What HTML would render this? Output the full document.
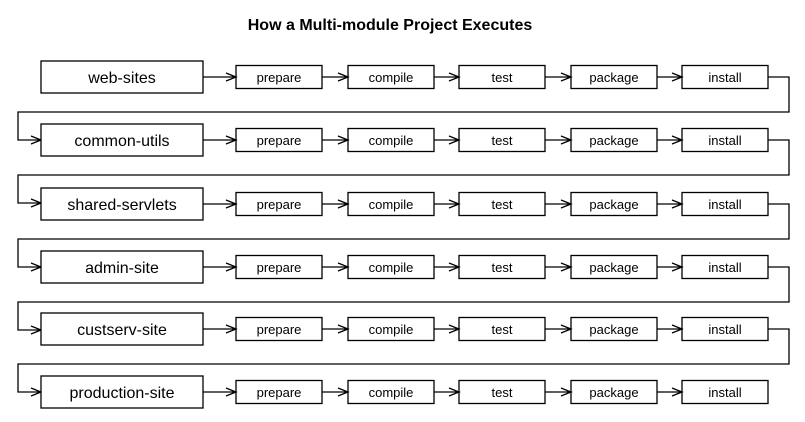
<!DOCTYPE html>
<html><head><meta charset="utf-8"><style>
html,body{margin:0;padding:0;background:#fff;}
svg{display:block;}
text{font-family:"Liberation Sans",Helvetica,Arial,sans-serif;fill:#000;}
</style></head><body>
<svg width="805" height="422" viewBox="0 0 805 422" xmlns="http://www.w3.org/2000/svg">
<defs>
<g id="row" fill="none" stroke="#000" stroke-width="1.3">
  <rect x="41" y="0" width="162" height="32" fill="#fff"/>
  <rect x="236" y="4.5" width="86" height="23" fill="#fff"/>
  <rect x="348" y="4.5" width="86" height="23" fill="#fff"/>
  <rect x="459" y="4.5" width="86" height="23" fill="#fff"/>
  <rect x="571" y="4.5" width="86" height="23" fill="#fff"/>
  <rect x="682" y="4.5" width="86" height="23" fill="#fff"/>
  <path d="M203 16H236M226 12L236 16L226 20"/>
  <path d="M322 16H348M338 12L348 16L338 20"/>
  <path d="M434 16H459M449 12L459 16L449 20"/>
  <path d="M545 16H571M561 12L571 16L561 20"/>
  <path d="M657 16H682M672 12L682 16L672 20"/>
</g>
<g id="loop" fill="none" stroke="#000" stroke-width="1.3">
  <path d="M768 16H789V51H18V79H41M31 75L41 79L31 83"/>
</g>
</defs>
<text x="390" y="30" text-anchor="middle" font-size="16" font-weight="bold">How a Multi-module Project Executes</text>

<g transform="translate(0,61)"><use href="#row"/><use href="#loop"/>
<text x="122" y="22" text-anchor="middle" font-size="16">web-sites</text>
<text x="279" y="21" text-anchor="middle" font-size="13">prepare</text><text x="391" y="21" text-anchor="middle" font-size="13">compile</text><text x="502" y="21" text-anchor="middle" font-size="13">test</text><text x="614" y="21" text-anchor="middle" font-size="13">package</text><text x="725" y="21" text-anchor="middle" font-size="13">install</text></g>

<g transform="translate(0,124)"><use href="#row"/><use href="#loop"/>
<text x="122" y="22" text-anchor="middle" font-size="16">common-utils</text>
<text x="279" y="21" text-anchor="middle" font-size="13">prepare</text><text x="391" y="21" text-anchor="middle" font-size="13">compile</text><text x="502" y="21" text-anchor="middle" font-size="13">test</text><text x="614" y="21" text-anchor="middle" font-size="13">package</text><text x="725" y="21" text-anchor="middle" font-size="13">install</text></g>

<g transform="translate(0,188)"><use href="#row"/><use href="#loop"/>
<text x="122" y="22" text-anchor="middle" font-size="16">shared-servlets</text>
<text x="279" y="21" text-anchor="middle" font-size="13">prepare</text><text x="391" y="21" text-anchor="middle" font-size="13">compile</text><text x="502" y="21" text-anchor="middle" font-size="13">test</text><text x="614" y="21" text-anchor="middle" font-size="13">package</text><text x="725" y="21" text-anchor="middle" font-size="13">install</text></g>

<g transform="translate(0,251)"><use href="#row"/><use href="#loop"/>
<text x="122" y="22" text-anchor="middle" font-size="16">admin-site</text>
<text x="279" y="21" text-anchor="middle" font-size="13">prepare</text><text x="391" y="21" text-anchor="middle" font-size="13">compile</text><text x="502" y="21" text-anchor="middle" font-size="13">test</text><text x="614" y="21" text-anchor="middle" font-size="13">package</text><text x="725" y="21" text-anchor="middle" font-size="13">install</text></g>

<g transform="translate(0,313)"><use href="#row"/><use href="#loop"/>
<text x="122" y="22" text-anchor="middle" font-size="16">custserv-site</text>
<text x="279" y="21" text-anchor="middle" font-size="13">prepare</text><text x="391" y="21" text-anchor="middle" font-size="13">compile</text><text x="502" y="21" text-anchor="middle" font-size="13">test</text><text x="614" y="21" text-anchor="middle" font-size="13">package</text><text x="725" y="21" text-anchor="middle" font-size="13">install</text></g>

<g transform="translate(0,376)"><use href="#row"/>
<text x="122" y="22" text-anchor="middle" font-size="16">production-site</text>
<text x="279" y="21" text-anchor="middle" font-size="13">prepare</text><text x="391" y="21" text-anchor="middle" font-size="13">compile</text><text x="502" y="21" text-anchor="middle" font-size="13">test</text><text x="614" y="21" text-anchor="middle" font-size="13">package</text><text x="725" y="21" text-anchor="middle" font-size="13">install</text></g>
</svg>
</body></html>
